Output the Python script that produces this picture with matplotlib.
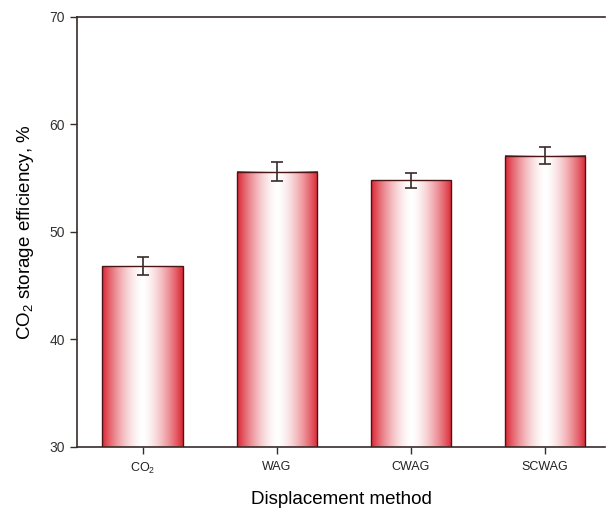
import numpy as np
import matplotlib
matplotlib.use("Agg")
import matplotlib.pyplot as plt

plt.rcParams['font.family'] = ['Liberation Sans', 'DejaVu Sans']
plt.rcParams['mathtext.fontset'] = 'custom'
plt.rcParams['mathtext.rm'] = 'Liberation Sans'

methods = ["CO$\\mathregular{_2}$", "WAG", "CWAG", "SCWAG"]
efficiency = [46.8, 55.6, 54.8, 57.1]
errors = [0.85, 0.85, 0.7, 0.8]

fig = plt.figure(figsize=(6.06, 5.09), dpi=100)
ax = fig.add_axes([0.127, 0.122, 0.872, 0.845])

x = np.arange(len(methods))
bars = ax.bar(x, efficiency, width=0.6, bottom=0, color="none",
              edgecolor="#4a1515", linewidth=1.0, zorder=3)

# red-white-red gradient fill inside each bar
red = np.array([0.86, 0.15, 0.2])
t = np.linspace(-1, 1, 256)
w = np.abs(t) ** 1.6
grad = 1 - w[:, None] * (1 - red[None, :])
grad = grad[None, :, :]
for b in bars:
    x0, y0 = b.get_x(), 30
    x1, y1 = x0 + b.get_width(), b.get_height()
    ax.imshow(grad, extent=[x0, x1, y0, y1], aspect="auto", zorder=2,
              interpolation="bilinear")

ax.errorbar(x, efficiency, yerr=errors, fmt="none", ecolor="#3a2a2a",
            elinewidth=1.2, capsize=4.5, capthick=1.2, zorder=4)

ax.set_xlim(-0.49, 3.45)
ax.set_ylim(30, 70)
ax.set_yticks([30, 40, 50, 60, 70])
ax.set_xticks(x)
ax.set_xticklabels(methods, fontsize=9)
ax.tick_params(axis="y", labelsize=10, length=5, width=1, color="#3a2a2a",
               labelcolor="#333333")
ax.tick_params(axis="x", length=5, width=1, color="#3a2a2a", pad=5,
               labelcolor="#222222")

for s in ["left", "bottom", "top"]:
    ax.spines[s].set_color("#3a2a2a")
    ax.spines[s].set_linewidth(1.2)
ax.spines["right"].set_visible(False)

ax.set_xlabel("Displacement method", fontsize=13.5, labelpad=11)
ax.set_ylabel("CO$\\mathregular{_2}$ storage efficiency, %", fontsize=13.5,
              labelpad=10)

fig.savefig("out.png", dpi=100)
